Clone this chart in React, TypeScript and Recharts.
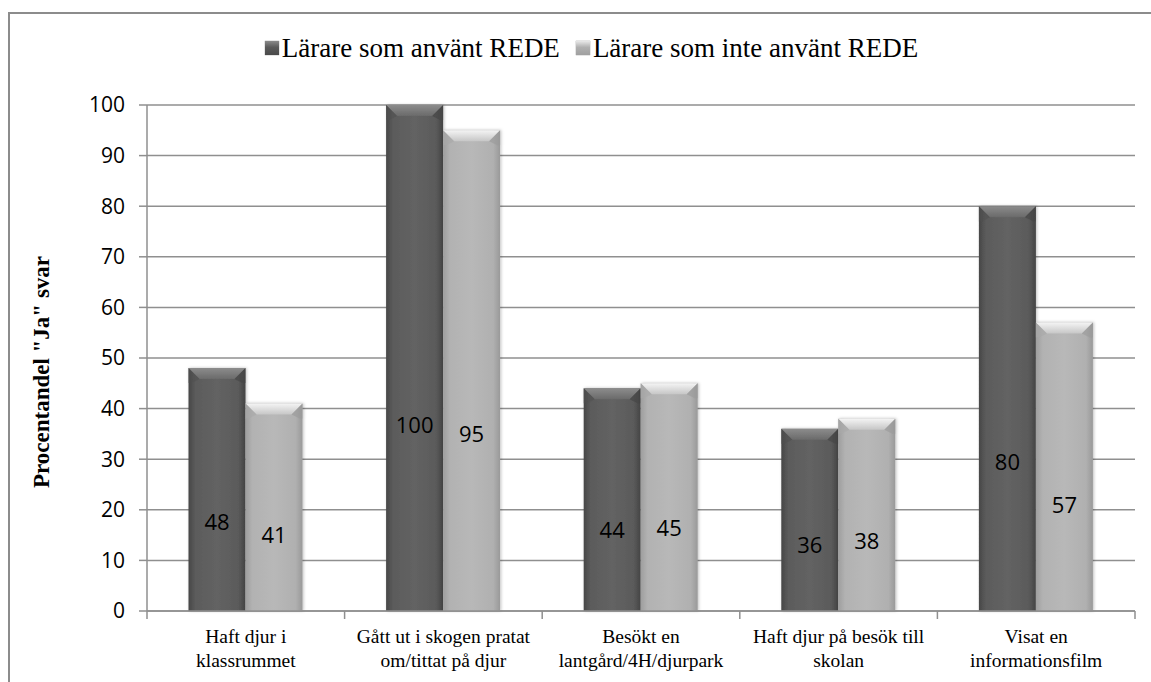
import React from "react";
import { BarChart, Bar, XAxis, YAxis, CartesianGrid, Legend, LabelList } from "recharts";

const categoryLines: string[][] = [
  ["Haft djur i", "klassrummet"],
  ["Gått ut i skogen pratat", "om/tittat på djur"],
  ["Besökt en", "lantgård/4H/djurpark"],
  ["Haft djur på besök till", "skolan"],
  ["Visat en", "informationsfilm"],
];
const usedRede: number[] = [48, 100, 44, 36, 80];
const notUsedRede: number[] = [41, 95, 45, 38, 57];
const seriesNames: string[] = ["Lärare som använt REDE", "Lärare som inte använt REDE"];
const yTicks: number[] = [0, 10, 20, 30, 40, 50, 60, 70, 80, 90, 100];

const data = categoryLines.map((lines, i) => ({
  name: lines.join(" "),
  a: usedRede[i],
  b: notUsedRede[i],
}));

const SERIF = "'Liberation Serif', 'Times New Roman', serif";
const SANS = "'Open Sans', 'Liberation Sans', sans-serif";
const AXIS = "#8f8f8f";

const makeBar = (kind: "dark" | "light") => (props: any) => {
  const { x, y, width, height } = props;
  if (!height || height <= 0) return null;
  const b = Math.min(11, height / 2, width / 2);
  return (
    <g filter="url(#barShadow)">
      <rect x={x} y={y} width={width} height={height} fill={`url(#body-${kind})`} />
      <polygon
        points={`${x},${y} ${x + width},${y} ${x + width - b},${y + b} ${x + b},${y + b}`}
        fill={`url(#cap-${kind})`}
      />
      <polygon
        points={`${x},${y} ${x + b},${y + b} ${x + 3},${y + b + 4} ${x},${y + b + 4}`}
        fill={kind === "dark" ? "#505050" : "#a8a8a8"}
        opacity={0.6}
      />
      <polygon
        points={`${x + width},${y} ${x + width - b},${y + b} ${x + width - 3},${y + b + 4} ${x + width},${y + b + 4}`}
        fill={kind === "dark" ? "#444" : "#9a9a9a"}
        opacity={0.6}
      />
    </g>
  );
};

const barLabel = (props: any) => {
  const { x, y, width, height, value } = props;
  return (
    <text
      x={x + width / 2}
      y={y + height * 0.63}
      textAnchor="middle"
      dominantBaseline="central"
      fontFamily={SANS}
      fontSize={22}
      fill="#000"
    >
      {value}
    </text>
  );
};

const CategoryTick = (props: any) => {
  const { x, y, payload, index } = props;
  const i = payload && typeof payload.index === "number" ? payload.index : index;
  const lines = categoryLines[i] || [String(payload.value)];
  const half = payload && typeof payload.offset === "number" && payload.offset > 0 ? payload.offset : 98.8;
  const isLast = i === categoryLines.length - 1;
  return (
    <g>
      <line x1={x - half} x2={x - half} y1={y} y2={y + 8} stroke={AXIS} strokeWidth={1.5} />
      {isLast && <line x1={x + half} x2={x + half} y1={y} y2={y + 8} stroke={AXIS} strokeWidth={1.5} />}
      <text x={x} y={y} textAnchor="middle" fontFamily={SERIF} fontSize={19.5} fill="#000">
        {lines.map((l, k) => (
          <tspan key={k} x={x} dy={k === 0 ? 32 : 24}>
            {l}
          </tspan>
        ))}
      </text>
    </g>
  );
};

const LegendContent = () => (
  <div
    style={{
      display: "flex",
      justifyContent: "center",
      alignItems: "center",
      height: 30,
      paddingLeft: 32,
      fontFamily: SERIF,
      fontSize: 27,
      color: "#000",
    }}
  >
    {seriesNames.map((n, i) => (
      <div key={i} style={{ display: "flex", alignItems: "center", marginRight: i === 0 ? 16 : 0 }}>
        <span
          style={{
            display: "inline-block",
            width: 14,
            height: 14,
            marginRight: 3,
            background:
              i === 0
                ? "linear-gradient(180deg,#8a8a8a 0%,#5a5a5a 45%,#4a4a4a 100%)"
                : "linear-gradient(180deg,#e8e8e8 0%,#b0b0b0 45%,#a0a0a0 100%)",
            boxShadow: "0 0 1px #666",
          }}
        />
        <span>{n}</span>
      </div>
    ))}
  </div>
);

export default function App() {
  return (
    <div style={{ position: "absolute", left: 0, top: 0, width: 1151, height: 682, overflow: "hidden", background: "#fff" }}>
      <div
        style={{
          position: "absolute",
          left: 8,
          top: 12,
          width: 1300,
          height: 800,
          borderLeft: "2px solid #8c8c8c",
          borderTop: "2px solid #8c8c8c",
          boxSizing: "border-box",
        }}
      />
      <div style={{ position: "absolute", left: 0, top: 0 }}>
        <BarChart
          width={1151}
          height={682}
          data={data}
          margin={{ top: 75, right: 16, left: 0, bottom: 0 }}
          barCategoryGap="21%"
          barGap={0}
        >
          <defs>
            <linearGradient id="body-dark" x1="0" y1="0" x2="1" y2="0">
              <stop offset="0%" stopColor="#474747" />
              <stop offset="12%" stopColor="#5b5b5b" />
              <stop offset="50%" stopColor="#636363" />
              <stop offset="88%" stopColor="#5a5a5a" />
              <stop offset="100%" stopColor="#444444" />
            </linearGradient>
            <linearGradient id="cap-dark" x1="0" y1="0" x2="0" y2="1">
              <stop offset="0%" stopColor="#8c8c8c" />
              <stop offset="100%" stopColor="#6a6a6a" />
            </linearGradient>
            <linearGradient id="body-light" x1="0" y1="0" x2="1" y2="0">
              <stop offset="0%" stopColor="#9e9e9e" />
              <stop offset="12%" stopColor="#b2b2b2" />
              <stop offset="50%" stopColor="#b8b8b8" />
              <stop offset="88%" stopColor="#b0b0b0" />
              <stop offset="100%" stopColor="#999999" />
            </linearGradient>
            <linearGradient id="cap-light" x1="0" y1="0" x2="0" y2="1">
              <stop offset="0%" stopColor="#f4f4f4" />
              <stop offset="100%" stopColor="#c6c6c6" />
            </linearGradient>
            <filter id="barShadow" x="-20%" y="-5%" width="140%" height="110%">
              <feDropShadow dx="1" dy="0" stdDeviation="1.5" floodColor="#000" floodOpacity="0.25" />
            </filter>
          </defs>
          <Legend verticalAlign="top" align="center" wrapperStyle={{ top: 33, left: 0, width: 1151 }} content={LegendContent} />
          <CartesianGrid vertical={false} stroke={AXIS} strokeWidth={1.5} />
          <XAxis
            dataKey="name"
            interval={0}
            tickLine={false}
            tickSize={0}
            tickMargin={0}
            axisLine={{ stroke: AXIS, strokeWidth: 1.5 }}
            tick={CategoryTick}
            height={71}
          />
          <YAxis
            width={147}
            domain={[0, 100]}
            ticks={yTicks}
            interval={0}
            tickSize={8}
            tickLine={{ stroke: AXIS, strokeWidth: 1.5 }}
            axisLine={{ stroke: AXIS, strokeWidth: 1.5 }}
            tick={{ fontFamily: SANS, fontSize: 21, fill: "#000" }}
            tickMargin={14}
            label={(p: any) => {
              const vb = p.viewBox || {};
              const cx = 41;
              const cy = (vb.y || 105) + (vb.height || 506) / 2 + 14;
              return (
                <text
                  x={cx}
                  y={cy}
                  transform={`rotate(-90 ${cx} ${cy})`}
                  textAnchor="middle"
                  dominantBaseline="central"
                  fontFamily={SERIF}
                  fontWeight="bold"
                  fontSize={23}
                  fill="#000"
                >
                  Procentandel "Ja" svar
                </text>
              );
            }}
          />
          <Bar dataKey="a" name={seriesNames[0]} shape={makeBar("dark")} isAnimationActive={false}>
            <LabelList dataKey="a" content={barLabel} />
          </Bar>
          <Bar dataKey="b" name={seriesNames[1]} shape={makeBar("light")} isAnimationActive={false}>
            <LabelList dataKey="b" content={barLabel} />
          </Bar>
        </BarChart>
      </div>
    </div>
  );
}
